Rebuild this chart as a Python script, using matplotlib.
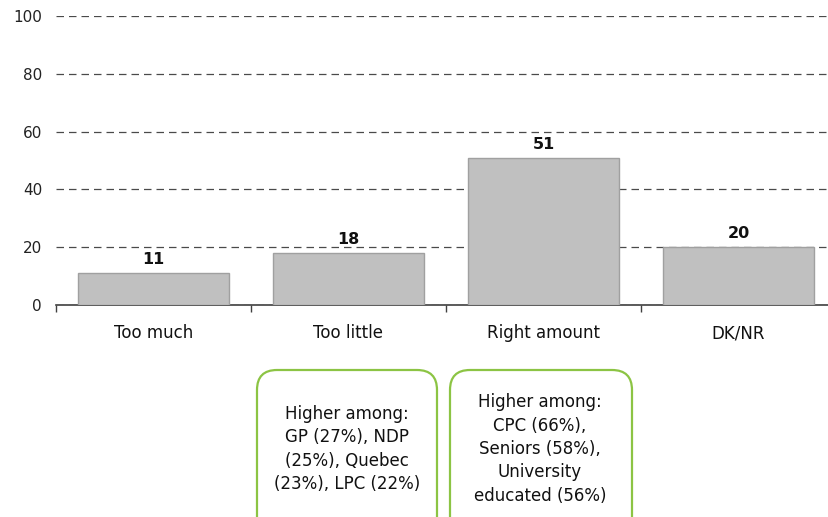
import matplotlib
matplotlib.use("Agg")
import matplotlib.pyplot as plt
from matplotlib.patches import FancyBboxPatch
from matplotlib.transforms import IdentityTransform

# Данные
categories = ["Too much", "Too little", "Right amount", "DK/NR"]
values = [11, 18, 51, 20]
y_ticks = [0, 20, 40, 60, 80, 100]
notes = [
    "Higher among:\nGP (27%), NDP\n(25%), Quebec\n(23%), LPC (22%)",
    "Higher among:\nCPC (66%),\nSeniors (58%),\nUniversity\neducated (56%)",
]

W, H = 829, 517
fig = plt.figure(figsize=(W / 100, H / 100), dpi=100)
# ось выходит чуть за правый край, как в оригинале
ax = fig.add_axes([56 / W, (H - 305) / H, 780 / W, 289 / H])

x = list(range(len(categories)))
bars = ax.bar(x, values, width=0.775, color="#c0c0c0", edgecolor="#a0a0a0",
              linewidth=1, zorder=3)
for b, v in zip(bars, values):
    ax.text(b.get_x() + b.get_width() / 2, v + 2, str(v), ha="center",
            va="bottom", fontsize=11.5, fontweight="bold", color="#111111")

ax.set_xlim(-0.5, len(categories) - 0.5)
ax.set_ylim(0, 100)
ax.set_yticks(y_ticks)
ax.tick_params(axis="y", length=0, labelsize=11, pad=10, colors="#222222")
ax.yaxis.grid(True, linestyle=(0, (6, 4)), color="#4a4a4a", linewidth=0.9)
ax.set_axisbelow(True)

# категории снизу, засечки между ними
ax.set_xticks(x)
ax.set_xticklabels(categories, fontsize=12, color="#111111")
ax.tick_params(axis="x", length=0, pad=14)
ax.set_xticks([i - 0.5 for i in range(len(categories) + 1)], minor=True)
ax.tick_params(axis="x", which="minor", length=5, direction="out",
               color="#404040", width=1)

for s in ["top", "right", "left"]:
    ax.spines[s].set_visible(False)
ax.spines["bottom"].set_color("#404040")
ax.spines["bottom"].set_linewidth(1.2)

# зелёные рамки с пояснениями (координаты в пикселях)
boxes = [(257, 437, 347), (450, 632, 540)]
for (left, right, cx), txt in zip(boxes, notes):
    top = H - 370
    bottom = -40
    p = FancyBboxPatch((left + 18, bottom + 18), right - left - 36, top - bottom - 36,
                       boxstyle="round,pad=18,rounding_size=20",
                       transform=IdentityTransform(), facecolor="white",
                       edgecolor="#8cc444", linewidth=1.6)
    fig.add_artist(p)
    fig.text(cx / W, (H - 449) / H, txt, ha="center", va="center",
             fontsize=12, linespacing=1.38, color="#111111")

fig.savefig("out.png", dpi=100)
